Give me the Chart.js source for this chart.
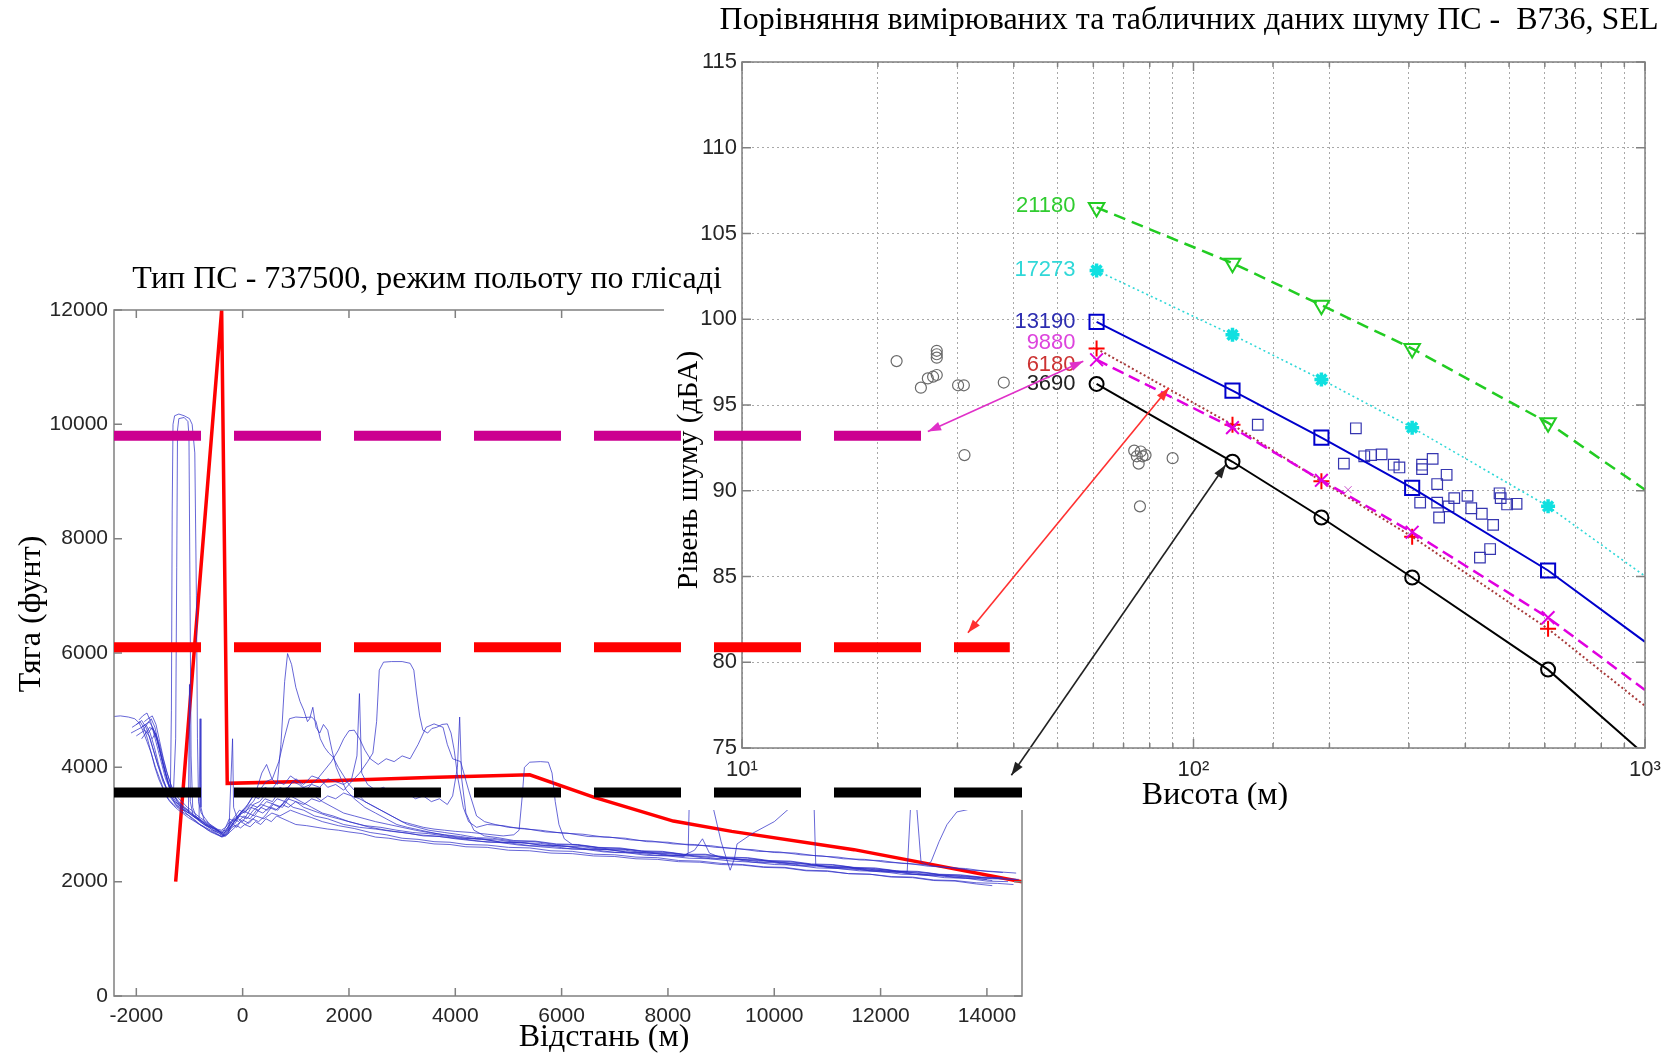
<!DOCTYPE html>
<html>
<head>
<meta charset="utf-8">
<script src="https://cdn.jsdelivr.net/npm/chart.js@4.4.1/dist/chart.umd.min.js"></script>
<style>
  body { margin: 0; background: #fff; width: 1675px; height: 1059px; position: relative; overflow: hidden; }
  canvas { position: absolute; }
  #left { left: 0; top: 0; }
  #right { left: 664px; top: 0; }
  #over { left: 0; top: 0; pointer-events: none; }
</style>
</head>
<body>
<canvas id="left" width="1100" height="1059"></canvas>
<canvas id="right" width="1011" height="810"></canvas>
<canvas id="over" width="1100" height="1059"></canvas>
<script>
// ---------- left chart: thrust vs distance ----------
const distTicks = [-2000, 0, 2000, 4000, 6000, 8000, 10000, 12000, 14000];
const thrustTicks = [0, 2000, 4000, 6000, 8000, 10000, 12000];

// measured thrust runs, [distance m, thrust lb]
const run01 = [[-2420,4890],[-2300,4900],[-2150,4880],[-2030,4850],[-1950,4780],[-1880,4650],[-1800,4450],[-1720,4250],[-1640,4000],[-1560,3800],[-1480,3600],[-1400,3450],[-1300,3350],[-1200,3280],[-1100,3200],[-1000,3150],[-900,3080],[-800,3000],[-700,2950],[-600,2900],[-500,2850],[-400,2790],[-300,2830],[-200,2950],[-100,3000],[0,3080],[120,3020],[250,3150],[400,3100],[550,3200],[700,3150],[900,3250],[1100,3180],[1300,3120],[1500,3050],[1800,2980],[2100,2930],[2400,2860],[2700,2820],[3000,2760],[3300,2740],[3600,2700],[3900,2690],[4200,2650],[4600,2640],[5000,2600],[5400,2590],[5800,2540],[6200,2530],[6600,2480],[7000,2470],[7400,2430],[7800,2420],[8200,2370],[8600,2360],[9000,2320],[9400,2300],[9800,2260],[10200,2250],[10600,2200],[11000,2190],[11400,2140],[11800,2130],[12200,2090],[12600,2080],[13000,2030],[13400,2020],[13800,1980],[14200,1970],[14500,1950]];
const run02 = [[-2080,4700],[-1980,4760],[-1900,4820],[-1820,4700],[-1740,4500],[-1660,4250],[-1580,4000],[-1500,3750],[-1420,3600],[-1360,3550],[-1340,5000],[-1325,8500],[-1310,10000],[-1280,10150],[-1200,10180],[-1100,10150],[-1000,10100],[-950,10000],[-900,9500],[-870,7000],[-850,4500],[-830,3400],[-780,3200],[-700,3100],[-620,3000],[-540,2950],[-460,2900],[-380,2820],[-300,2900],[-200,3050],[-100,3150],[0,3200],[150,3300],[300,3250],[450,3400],[600,3350],[750,3300],[900,3500],[1100,3400],[1300,3300],[1500,3200],[1700,3150],[2000,3050],[2300,2980],[2600,2950],[2900,2900],[3200,2860],[3500,2840],[3800,2800],[4100,2760],[4500,2740],[4900,2690],[5300,2680],[5700,2630],[6100,2620],[6500,2570],[6900,2560],[7300,2510],[7700,2500],[8100,2460],[8500,2450],[8900,2410],[9300,2400],[9700,2350],[10100,2340],[10500,2290],[10900,2280],[11300,2240],[11700,2230],[12100,2180],[12500,2170],[12900,2120],[13300,2110],[13700,2070],[14100,2060],[14550,2040]];
const run03 = [[-1950,4830],[-1880,4900],[-1800,4950],[-1730,4800],[-1660,4550],[-1590,4300],[-1520,4050],[-1450,3800],[-1380,3650],[-1300,3600],[-1260,4500],[-1240,7500],[-1225,9900],[-1200,10100],[-1100,10120],[-1030,10050],[-1010,9800],[-990,7000],[-970,4200],[-940,3300],[-880,3150],[-800,3050],[-720,3000],[-640,2960],[-560,2900],[-480,2870],[-400,2830],[-320,2950],[-250,3100],[-150,3050],[-50,3150],[80,3100],[200,3250],[350,3350],[500,3300],[650,3450],[800,3400],[950,3300],[1150,3250],[1350,3150],[1600,3100],[1900,3000],[2200,2950],[2500,2920],[2800,2880],[3100,2850],[3400,2800],[3700,2790],[4000,2750],[4400,2710],[4800,2690],[5200,2640],[5600,2610],[6000,2580],[6400,2570],[6800,2520],[7200,2510],[7600,2460],[8000,2450],[8400,2410],[8800,2400],[9200,2360],[9600,2340],[10000,2300],[10400,2290],[10800,2240],[11200,2230],[11600,2190],[12000,2180],[12400,2130],[12800,2120],[13200,2070],[13600,2060],[14000,2010],[14400,2000]];
const run04 = [[-1880,4650],[-1800,4750],[-1720,4850],[-1650,4700],[-1580,4400],[-1500,4100],[-1420,3800],[-1340,3500],[-1260,3350],[-1180,3300],[-1100,3250],[-1020,3200],[-1000,5450],[-985,3400],[-930,3150],[-850,3100],[-760,3050],[-680,2980],[-600,2950],[-520,2900],[-440,2870],[-360,2800],[-280,2880],[-200,3000],[-120,3100],[-40,3200],[60,3300],[160,3450],[260,3600],[360,3900],[450,4050],[550,3800],[650,3700],[720,4400],[790,5500],[845,5990],[920,5800],[1000,5400],[1080,5150],[1150,5000],[1220,4800],[1260,4850],[1320,5050],[1380,4700],[1450,4600],[1520,4750],[1600,4650],[1680,4300],[1760,4000],[1850,3800],[1950,3600],[2100,3450],[2300,3300],[2500,3200],[2700,3100],[2900,3000],[3100,2950],[3350,2900],[3600,2850],[3900,2800],[4200,2760],[4500,2750],[4850,2690],[5200,2690],[5600,2640],[6000,2630],[6400,2570],[6800,2570],[7200,2520],[7600,2510],[8000,2460],[8400,2450],[8800,2400],[9200,2400],[9600,2340],[10000,2330],[10400,2280],[10800,2270],[11200,2230],[11600,2210],[12000,2170],[12400,2160],[12800,2110],[13200,2100],[13600,2060],[14000,2040]];
const run05 = [[-2100,4600],[-2000,4650],[-1900,4700],[-1820,4750],[-1740,4600],[-1660,4350],[-1580,4050],[-1500,3800],[-1420,3600],[-1340,3450],[-1260,3350],[-1180,3280],[-1100,3250],[-1020,3200],[-940,3150],[-860,3100],[-780,3060],[-700,3000],[-620,2960],[-540,2930],[-460,2880],[-380,2850],[-300,2920],[-220,3050],[-140,3150],[-60,3250],[40,3200],[150,3350],[280,3300],[420,3450],[560,3400],[700,3600],[850,3650],[1000,3800],[1150,3700],[1300,3850],[1450,3800],[1600,3650],[1750,3700],[1900,3600],[2050,3750],[2200,3900],[2350,4100],[2450,4250],[2520,4800],[2570,5700],[2650,5840],[2800,5850],[3000,5850],[3150,5820],[3220,5700],[3270,5300],[3330,4900],[3390,4650],[3480,4600],[3560,4680],[3650,4700],[3750,4750],[3850,4760],[3920,4600],[3980,4300],[4050,3800],[4150,3300],[4250,3050],[4400,2950],[4600,3000],[4900,2980],[5200,2930],[5600,2900],[6000,2850],[6400,2830],[6800,2780],[7200,2760],[7600,2700],[8000,2690],[8400,2640],[8800,2630],[9200,2580],[9600,2560],[10000,2510],[10400,2500],[10800,2450],[11200,2430],[11600,2380],[12000,2370],[12400,2320],[12800,2300],[13200,2250],[13600,2230],[14000,2180],[14300,2160]];
const run06 = [[-1900,4500],[-1820,4600],[-1750,4700],[-1680,4650],[-1600,4450],[-1520,4150],[-1450,3900],[-1380,3700],[-1300,3500],[-1220,3400],[-1140,3320],[-1060,3260],[-980,3200],[-900,3150],[-820,3100],[-800,4850],[-785,3300],[-720,3050],[-640,3000],[-560,2950],[-480,2900],[-400,2850],[-330,2800],[-260,2850],[-190,4500],[-170,3300],[-100,3100],[-20,3200],[80,3300],[200,3400],[320,3600],[440,3750],[560,3800],[680,4100],[780,4500],[880,4850],[1000,4880],[1150,4870],[1300,4880],[1380,4800],[1460,4500],[1540,4350],[1620,4250],[1700,4180],[1800,4000],[1900,3850],[2000,3700],[2150,3550],[2300,3400],[2500,3300],[2700,3200],[2900,3100],[3100,3000],[3300,2950],[3500,2900],[3800,2860],[4100,2820],[4400,2770],[4700,2760],[5100,2710],[5500,2700],[5900,2650],[6300,2640],[6700,2590],[7100,2580],[7500,2530],[7900,2520],[8300,2470],[8700,2470],[9100,2420],[9500,2410],[9900,2360],[10300,2350],[10700,2300],[11100,2290],[11500,2240],[11900,2230],[12300,2180],[12700,2170],[13100,2120],[13500,2110],[13900,2070],[14200,2060]];
const run07 = [[-2000,4550],[-1920,4600],[-1840,4650],[-1760,4550],[-1680,4300],[-1600,4050],[-1520,3850],[-1440,3650],[-1360,3500],[-1280,3400],[-1200,3350],[-1120,3300],[-1040,3250],[-960,3180],[-880,3120],[-800,3080],[-720,3020],[-640,2980],[-560,2940],[-480,2900],[-400,2880],[-320,2900],[-240,3000],[-160,3100],[-80,3050],[20,3150],[140,3100],[260,3250],[380,3200],[500,3300],[620,3250],[740,3350],[860,3300],[1000,3400],[1150,3350],[1300,3450],[1450,3400],[1600,3500],[1750,3450],[1900,3550],[2050,3500],[2200,3450],[2400,3350],[2600,3250],[2800,3150],[3000,3050],[3200,3000],[3400,2950],[3600,2920],[3800,2900],[4000,2880],[4300,2860],[4600,2830],[4900,2800],[5100,2820],[5200,2900],[5260,3500],[5300,4000],[5400,4090],[5600,4100],[5750,4090],[5820,3900],[5880,3400],[5950,3000],[6050,2750],[6200,2650],[6500,2620],[6900,2570],[7300,2560],[7700,2510],[8100,2500],[8500,2450],[8900,2440],[9300,2390],[9700,2380],[10100,2340],[10500,2320],[10900,2270],[11300,2270],[11700,2220],[12100,2210],[12500,2160],[12900,2150],[13300,2100],[13700,2090],[14100,2050],[14600,2040]];
const run08 = [[-1850,4800],[-1780,4850],[-1700,4900],[-1630,4750],[-1560,4450],[-1490,4150],[-1420,3900],[-1350,3700],[-1280,3550],[-1200,3450],[-1120,3380],[-1040,3300],[-960,3250],[-880,3180],[-800,3120],[-720,3070],[-640,3020],[-560,2970],[-480,2920],[-400,2900],[-320,2950],[-240,3050],[-160,3000],[-80,3100],[0,3050],[100,3200],[220,3150],[340,3300],[460,3250],[580,3350],[700,3300],[850,3450],[1000,3400],[1150,3300],[1300,3250],[1450,3200],[1600,3150],[1800,3100],[2000,3050],[2200,3000],[2400,2950],[2700,2900],[3000,2860],[3300,2820],[3600,2800],[3900,2770],[4200,2740],[4600,2690],[5000,2680],[5400,2630],[5800,2620],[6200,2570],[6600,2560],[7000,2510],[7400,2500],[7800,2460],[8150,2450],[8300,2440],[8380,2500],[8410,3800],[8450,3850],[8800,3800],[8850,3300],[9000,2700],[9170,2200],[9250,2400],[9300,2660],[9600,2850],[10000,3050],[10313,3306],[10400,3700],[10700,3700],[10750,3300],[10780,2300],[11000,2250],[11400,2240],[11800,2190],[12200,2180],[12600,2130],[13000,2120],[13400,2070],[13800,2060],[14100,2020]];
const run09 = [[-1900,4700],[-1830,4750],[-1760,4800],[-1690,4700],[-1620,4500],[-1550,4250],[-1480,4000],[-1410,3750],[-1340,3600],[-1270,3480],[-1200,3400],[-1130,3330],[-1060,3280],[-990,3230],[-920,3160],[-850,3120],[-780,3080],[-710,3030],[-640,2990],[-570,2950],[-500,2920],[-430,2880],[-360,2850],[-290,2890],[-220,2960],[-150,3050],[-80,3150],[0,3250],[100,3350],[200,3500],[300,3450],[420,3650],[540,3600],[660,3750],[780,3700],[900,3850],[1050,3750],[1200,3600],[1350,3500],[1500,3400],[1700,3300],[1900,3200],[2100,3150],[2300,3100],[2500,3050],[2750,3000],[3000,2950],[3250,2900],[3500,2860],[3800,2820],[4100,2790],[4400,2750],[4800,2730],[5200,2680],[5600,2670],[6000,2620],[6400,2610],[6800,2560],[7200,2550],[7600,2500],[8000,2490],[8300,2460],[8500,2550],[8650,2750],[8780,2500],[9000,2420],[9400,2380],[9800,2370],[10200,2320],[10600,2310],[11000,2260],[11400,2250],[11800,2200],[12200,2190],[12500,2170],[12580,3600],[12680,3300],[12760,2350],[12880,2300],[12950,2350],[13100,2700],[13250,3000],[13435,3220],[13640,3260]];
const run10 = [[-1780,4600],[-1700,4700],[-1640,4600],[-1570,4350],[-1500,4050],[-1430,3800],[-1360,3600],[-1290,3450],[-1220,3350],[-1150,3300],[-1080,3250],[-1010,3200],[-940,3150],[-870,3100],[-800,3050],[-730,3000],[-660,2960],[-590,2920],[-520,2880],[-450,2850],[-380,2800],[-310,2880],[-240,2950],[-170,3050],[-90,3150],[0,3250],[100,3200],[200,3350],[320,3400],[450,3550],[580,3500],[700,3650],[820,3600],[940,3750],[1060,3700],[1180,3600],[1300,3700],[1450,3650],[1600,3800],[1750,3750],[1900,3700],[2050,3800],[2150,4200],[2197,5290],[2240,3900],[2350,3700],[2500,3600],[2650,3650],[2800,3550],[2950,3500],[3100,3550],[3250,3450],[3400,3500],[3550,3400],[3700,3450],[3850,3350],[3950,3500],[4040,4000],[4082,4880],[4120,3800],[4200,3200],[4350,2900],[4550,2800],[4800,2770],[5100,2720],[5500,2710],[5900,2660],[6300,2650],[6700,2600],[7100,2590],[7500,2540],[7900,2530],[8300,2480],[8700,2480],[9100,2430],[9500,2420],[9900,2370],[10300,2360],[10700,2310],[11100,2300],[11500,2250],[11900,2240],[12300,2190],[12700,2180],[13100,2130],[13500,2120],[13900,2080],[14300,2070]];
const run11 = [[-2000,4750],[-1930,4800],[-1860,4700],[-1790,4500],[-1720,4250],[-1650,4000],[-1580,3800],[-1510,3650],[-1440,3500],[-1370,3400],[-1300,3330],[-1230,3270],[-1160,3220],[-1090,3170],[-1020,3120],[-950,3080],[-880,3040],[-810,3000],[-740,2960],[-670,2920],[-600,2880],[-530,2850],[-460,2820],[-390,2790],[-320,2830],[-250,2900],[-180,3000],[-110,2950],[-40,3050],[60,3000],[180,3100],[300,3050],[420,3150],[540,3300],[660,3250],[780,3400],[900,3550],[1020,3500],[1150,3650],[1280,3700],[1410,3800],[1540,3950],[1670,4100],[1800,4300],[1900,4500],[2000,4640],[2100,4650],[2200,4500],[2300,4300],[2400,4150],[2550,4050],[2700,4150],[2850,4100],[3000,4200],[3150,4150],[3300,4400],[3450,4700],[3600,4760],[3770,4700],[3850,4400],[3950,4150],[4100,4100],[4250,3600],[4400,3150],[4550,3050],[4750,3000],[5000,2950],[5300,2930],[5700,2870],[6100,2850],[6500,2790],[6900,2780],[7300,2730],[7700,2710],[8100,2660],[8500,2650],[8900,2600],[9300,2580],[9700,2530],[10100,2520],[10500,2470],[10900,2450],[11300,2400],[11700,2390],[12100,2340],[12500,2320],[12900,2270],[13300,2250],[13700,2200],[14100,2180],[14550,2150]];
const run12 = [[-1700,4500],[-1640,4600],[-1580,4450],[-1510,4200],[-1440,3950],[-1370,3750],[-1300,3550],[-1230,3400],[-1160,3300],[-1090,3220],[-1020,3160],[-950,3100],[-880,3050],[-810,3000],[-740,2960],[-670,2910],[-600,2870],[-530,2840],[-460,2810],[-390,2780],[-320,2800],[-250,2860],[-180,2920],[-110,2980],[-40,2940],[40,3000],[140,2960],[240,3050],[340,3000],[440,3100],[540,3050],[640,3150],[760,3100],[880,3050],[1000,3000],[1200,2980],[1400,2950],[1600,2920],[1800,2900],[2000,2870],[2250,2840],[2500,2780],[2750,2760],[3000,2720],[3300,2700],[3600,2660],[3900,2650],[4200,2610],[4600,2600],[5000,2550],[5400,2540],[5800,2500],[6200,2490],[6600,2450],[7000,2440],[7400,2400],[7800,2390],[8200,2350],[8600,2340],[9000,2300],[9400,2290],[9800,2250],[10200,2240],[10600,2190],[11000,2180],[11400,2140],[11800,2130],[12200,2080],[12600,2070],[13000,2020],[13400,2010],[13800,1960],[14100,1930]];
const thrustRuns = [run01, run02, run03, run04, run05, run06, run07, run08, run09, run10, run11, run12];

// model (table) thrust profile
const modelThrust = [[-1260,2000],[-395,12000],[-290,3720],[1500,3760],[3500,3820],[5400,3870],[6600,3480],[8100,3060],[9200,2880],[11500,2560],[14660,2000]];

// thrust levels of the noise tables, drawn as thick dashes
const levelThrust = [9800, 6100, 3560];
const levelEnd = [12830, 14430, 14660];
const levelColors = ['#cc0090', '#ff0000', '#000000'];

// ---------- right chart: SEL vs altitude ----------
const npdAltitude = [61, 122, 192, 305, 610, 1000];
const sel21180 = [106.52, 103.27, 100.82, 98.29, 93.96, 90.06];
const sel17273 = [102.84, 99.09, 96.49, 93.68, 89.09, 85.02];
const sel13190 = [99.85, 95.84, 93.10, 90.17, 85.35, 81.19];
const sel9880 = [97.64, 93.68, 90.61, 87.58, 82.60, 78.38];
const sel6180 = [98.29, 93.85, 90.56, 87.32, 81.95, 77.45];
const sel3690 = [96.23, 91.69, 88.44, 84.94, 79.57, 74.60];
const npdLabels = ['21180', '17273', '13190', '9880', '6180', '3690'];
const npdLabelLevel = [106.6, 102.85, 99.85, 98.6, 97.35, 96.2];
const levelTicks = [75, 80, 85, 90, 95, 100, 105, 110, 115];

// measured points
const circleAlt = [22.0, 24.9, 25.8, 26.5, 27.0, 27.0, 27.0, 27.0, 30.1, 31.0, 38.0, 31.1, 73.9, 76.4, 74.9, 77.1, 75.6, 78.3, 89.9, 76.1];
const circleSel = [97.56, 96.01, 96.55, 96.65, 98.16, 97.96, 97.76, 96.75, 96.15, 96.15, 96.31, 92.08, 92.34, 92.29, 92.01, 92.01, 91.58, 92.08, 91.9, 89.09];
const squareAlt = [138.8, 228.9, 215.3, 238.9, 247.4, 261.0, 277.6, 285.8, 320.8, 320.8, 338.6, 346.5, 363.6, 317.7, 346.5, 367.2, 378.0, 404.4, 412.3, 435.1, 460.9, 476.3, 479.0, 495.0, 519.4, 349.9, 430.9, 453.9];
const squareSel = [93.85, 93.64, 91.58, 92.01, 92.08, 92.12, 91.52, 91.36, 91.52, 91.26, 91.86, 90.39, 90.93, 89.31, 89.31, 89.09, 89.57, 89.70, 88.98, 88.66, 88.01, 89.85, 89.57, 89.20, 89.24, 88.44, 86.10, 86.60];
const crossAlt = [220];
const crossSel = [90.06];

// arrows linking table curves and thrust levels (upper end, lower end)
const arrowUpper = [[57, 97.55], [88.2, 96.0], [117.8, 91.5]];
const arrowLower = [[25.8, 93.45], [31.65, 81.72], [39.5, 73.41]];
const arrowColors = ['#e030c8', '#ff3030', '#222222'];

Chart.defaults.font.family = "'Liberation Sans', Arial, sans-serif";
Chart.defaults.animation = false;
const serif = "'Liberation Serif', 'Times New Roman', serif";

function pts(xs, ys) { return xs.map((x, i) => ({ x: x, y: ys[i] })); }
function pairs(arr) { return arr.map(p => ({ x: p[0], y: p[1] })); }

// box with inward tick marks like the original plots
const framePlugin = {
  id: 'frame',
  afterDraw(chart, args, o) {
    const { ctx, chartArea: a, scales } = chart;
    ctx.save();
    ctx.strokeStyle = o.color;
    ctx.lineWidth = o.width;
    ctx.strokeRect(a.left, a.top, a.right - a.left, a.bottom - a.top);
    ctx.beginPath();
    scales.x.ticks.forEach(t => {
      const px = scales.x.getPixelForValue(t.value);
      const major = !o.logX || Math.abs(Math.log10(t.value) - Math.round(Math.log10(t.value))) < 1e-6;
      const len = major ? o.len : o.minorLen;
      ctx.moveTo(px, a.bottom); ctx.lineTo(px, a.bottom - len);
      ctx.moveTo(px, a.top); ctx.lineTo(px, a.top + len);
    });
    scales.y.ticks.forEach(t => {
      const py = scales.y.getPixelForValue(t.value);
      ctx.moveTo(a.left, py); ctx.lineTo(a.left + o.len, py);
      ctx.moveTo(a.right, py); ctx.lineTo(a.right - o.len, py);
    });
    ctx.stroke();
    ctx.restore();
  }
};

// free text captions (titles, axis names)
const captionPlugin = {
  id: 'captions',
  afterDraw(chart, args, o) {
    const ctx = chart.ctx;
    (o.items || []).forEach(c => {
      ctx.save();
      ctx.font = c.font;
      ctx.fillStyle = c.color || '#000';
      ctx.textAlign = 'center';
      ctx.textBaseline = 'middle';
      ctx.translate(c.x, c.y);
      if (c.rot) ctx.rotate(c.rot);
      ctx.fillText(c.text, 0, 0);
      ctx.restore();
    });
  }
};

const whiteBg = {
  id: 'whiteBg',
  beforeDraw(chart) {
    const ctx = chart.ctx;
    ctx.save();
    ctx.fillStyle = '#fff';
    ctx.fillRect(0, 0, chart.width, chart.height);
    ctx.restore();
  }
};

function leftScales(hidden) {
  const c = hidden ? 'rgba(0,0,0,0)' : '#262626';
  return {
    x: {
      type: 'linear', min: -2420, max: 14660,
      grid: { display: false, drawTicks: false }, border: { display: false },
      afterBuildTicks: s => { s.ticks = distTicks.map(v => ({ value: v })); },
      ticks: { autoSkip: false, maxRotation: 0, padding: 8, color: c, font: { size: 21 }, callback: v => String(v) },
      afterFit: s => { s.height = 40; }
    },
    y: {
      min: 0, max: 12000,
      grid: { display: false, drawTicks: false }, border: { display: false },
      afterBuildTicks: s => { s.ticks = thrustTicks.map(v => ({ value: v })); },
      ticks: { padding: 6, color: c, font: { size: 21 }, callback: v => String(v) },
      afterFit: s => { s.width = 114; }
    }
  };
}
const leftLayout = { padding: { left: 0, top: 310, right: 78, bottom: 23 } };

// left chart (bottom layer)
const leftSets = thrustRuns.map(r => ({
  data: pairs(r), borderColor: 'rgba(45,45,200,0.72)', borderWidth: 1, pointRadius: 0, tension: 0
}));
leftSets.push({ data: pairs(modelThrust), borderColor: '#ff0000', borderWidth: 3.5, pointRadius: 0, tension: 0 });

new Chart(document.getElementById('left'), {
  type: 'line',
  data: { datasets: leftSets },
  options: {
    responsive: false,
    layout: leftLayout,
    scales: leftScales(false),
    plugins: {
      legend: { display: false }, tooltip: { enabled: false },
      frame: { color: '#808080', width: 1.5, len: 8, minorLen: 8 },
      captions: { items: [
        { text: 'Відстань (м)', x: 604, y: 1038, font: '32px ' + serif },
        { text: 'Тяга (фунт)', x: 32, y: 614, rot: -Math.PI / 2, font: '32px ' + serif }
      ] }
    }
  },
  plugins: [framePlugin, captionPlugin]
});

// right chart (middle layer, white background hides the left plot beneath)
function arrowHead(ctx, fx, fy, tx, ty) {
  const ang = Math.atan2(ty - fy, tx - fx);
  const size = 14;
  ctx.beginPath();
  ctx.moveTo(tx, ty);
  ctx.lineTo(tx - size * Math.cos(ang - 0.33), ty - size * Math.sin(ang - 0.33));
  ctx.lineTo(tx - size * Math.cos(ang + 0.33), ty - size * Math.sin(ang + 0.33));
  ctx.closePath();
  ctx.fill();
}
const annotPlugin = {
  id: 'annot',
  afterDatasetsDraw(chart) {
    const { ctx, scales: { x, y } } = chart;
    ctx.save();
    // curve labels
    const npdColors = ['#30cc30', '#30d8d8', '#2d2db0', '#dd44dd', '#cc3333', '#222222'];
    ctx.font = "22px 'Liberation Sans', Arial, sans-serif";
    ctx.textAlign = 'right';
    ctx.textBaseline = 'middle';
    npdLabels.forEach((t, i) => {
      ctx.fillStyle = npdColors[i];
      ctx.fillText(t, x.getPixelForValue(npdAltitude[0]) - 21, y.getPixelForValue(npdLabelLevel[i]));
    });
    // arrows
    arrowUpper.forEach((p, i) => {
      const x1 = x.getPixelForValue(p[0]), y1 = y.getPixelForValue(p[1]);
      const x2 = x.getPixelForValue(arrowLower[i][0]), y2 = y.getPixelForValue(arrowLower[i][1]);
      ctx.strokeStyle = arrowColors[i];
      ctx.fillStyle = arrowColors[i];
      ctx.lineWidth = 1.6;
      ctx.beginPath(); ctx.moveTo(x1, y1); ctx.lineTo(x2, y2); ctx.stroke();
      arrowHead(ctx, x1, y1, x2, y2);
      arrowHead(ctx, x2, y2, x1, y1);
    });
    ctx.restore();
  }
};

const sup = { 1: '¹', 2: '²', 3: '³' };
function npdSet(vals, color, lineColor, style, dash, width, radius, extra) {
  return Object.assign({
    data: pts(npdAltitude, vals),
    borderColor: lineColor, borderWidth: width, borderDash: dash,
    pointStyle: style, pointRadius: npdAltitude.map((a, i) => i < 5 ? radius : 0),
    pointBorderColor: color, pointBackgroundColor: 'rgba(0,0,0,0)', pointBorderWidth: 2, tension: 0
  }, extra || {});
}

new Chart(document.getElementById('right'), {
  type: 'line',
  data: {
    datasets: [
      npdSet(sel21180, '#22cc22', '#22cc22', 'triangle', [12, 7], 2.5, 9, { pointRotation: 180 }),
      npdSet(sel17273, '#10e0e0', '#30d8d8', 'star', [2, 3], 1.6, 7, { pointBorderWidth: 3.5 }),
      npdSet(sel13190, '#0000cc', '#0000cc', 'rect', [], 2, 10),
      npdSet(sel9880, '#e000e0', '#e000e0', 'crossRot', [12, 6], 2.5, 9),
      npdSet(sel6180, '#ff0000', '#a83a3a', 'cross', [2, 2.5], 2, 8),
      npdSet(sel3690, '#000000', '#000000', 'circle', [], 2, 7),
      { data: pts(circleAlt, circleSel), showLine: false, pointStyle: 'circle', pointRadius: 5.5, pointBorderColor: '#6a6a6a', pointBackgroundColor: 'rgba(0,0,0,0)', pointBorderWidth: 1.2 },
      { data: pts(squareAlt, squareSel), showLine: false, pointStyle: 'rect', pointRadius: 7.5, pointBorderColor: '#3636b0', pointBackgroundColor: 'rgba(0,0,0,0)', pointBorderWidth: 1.2 },
      { data: pts(crossAlt, crossSel), showLine: false, pointStyle: 'crossRot', pointRadius: 5, pointBorderColor: '#cc55cc', pointBorderWidth: 1 }
    ]
  },
  options: {
    responsive: false,
    layout: { padding: { left: 0, top: 62, right: 30, bottom: 22 } },
    scales: {
      x: {
        type: 'logarithmic', min: 10, max: 1000,
        grid: { color: '#a8a8a8', lineWidth: 1, drawTicks: false }, border: { display: false, dash: [2, 3] },
        ticks: {
          autoSkip: false, maxRotation: 0, padding: 9, color: '#262626', font: { size: 22 },
          callback: v => {
            const e = Math.log10(v);
            return Math.abs(e - Math.round(e)) < 1e-6 ? '10' + sup[Math.round(e)] : '';
          }
        },
        afterFit: s => { s.height = 40; }
      },
      y: {
        min: 75, max: 115,
        grid: { color: '#a8a8a8', lineWidth: 1, drawTicks: false }, border: { display: false, dash: [2, 3] },
        afterBuildTicks: s => { s.ticks = levelTicks.map(v => ({ value: v })); },
        ticks: { padding: 5, color: '#262626', font: { size: 22 } },
        afterFit: s => { s.width = 78; }
      }
    },
    plugins: {
      legend: { display: false }, tooltip: { enabled: false },
      frame: { color: '#808080', width: 1.5, len: 9, minorLen: 5, logX: true },
      captions: { items: [
        { text: 'Порівняння вимірюваних та табличних даних шуму ПС -  B736, SEL', x: 525, y: 21, font: '32px ' + serif },
        { text: 'Рівень шуму (дБА)', x: 25, y: 470, rot: -Math.PI / 2, font: '29.5px ' + serif },
        { text: 'Висота (м)', x: 551, y: 796, font: '32px ' + serif }
      ] }
    }
  },
  plugins: [whiteBg, framePlugin, annotPlugin, captionPlugin]
});

// top layer: thrust level dashes and the left title, same axes as the left chart
new Chart(document.getElementById('over'), {
  type: 'line',
  data: {
    datasets: levelThrust.map((v, i) => ({
      data: [{ x: -2420, y: v }, { x: levelEnd[i], y: v }],
      borderColor: levelColors[i], borderWidth: 10, borderDash: [87, 33], borderCapStyle: 'butt', pointRadius: 0
    }))
  },
  options: {
    responsive: false,
    layout: leftLayout,
    scales: leftScales(true),
    plugins: {
      legend: { display: false }, tooltip: { enabled: false },
      captions: { items: [
        { text: 'Тип ПС - 737500, режим польоту по глісаді', x: 427, y: 280, font: '32px ' + serif }
      ] }
    }
  },
  plugins: [captionPlugin]
});
</script>
</body>
</html>
